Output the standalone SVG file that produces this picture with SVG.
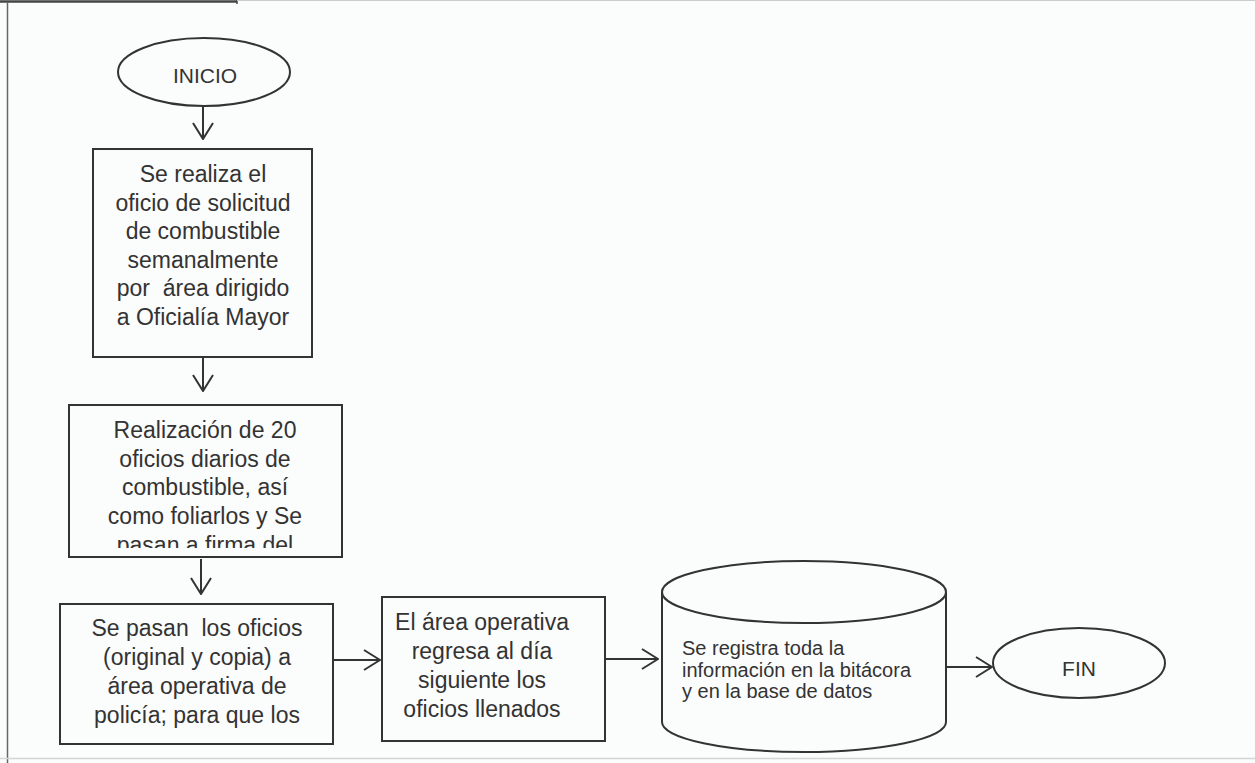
<svg xmlns="http://www.w3.org/2000/svg" width="1255" height="763" viewBox="0 0 1255 763">
<style>
.shape{fill:none;stroke:#333;stroke-width:2}
.txt{font-family:"Liberation Sans",Arial,sans-serif;font-size:23px;fill:#333;text-anchor:middle}
.term{font-family:"Liberation Sans",Arial,sans-serif;font-size:21px;fill:#333;text-anchor:middle}
.small{font-family:"Liberation Sans",Arial,sans-serif;font-size:20px;fill:#333}
.conn{fill:none;stroke:#333;stroke-width:2}
</style>
<defs>
<marker id="arr" viewBox="0 0 18 22" refX="17" refY="11" markerWidth="18" markerHeight="22" markerUnits="userSpaceOnUse" orient="auto">
<path d="M1,1 L17,11 L1,21" fill="none" stroke="#333" stroke-width="2"/>
</marker>
<clipPath id="clip2"><rect x="70" y="406" width="272" height="142"/></clipPath>
</defs>
<rect x="0" y="0" width="1255" height="763" fill="#fbfcfc"/>
<g id="frame">
<line x1="0" y1="1.5" x2="237" y2="1.5" stroke="#444" stroke-width="2.5"/>
<line x1="237" y1="0" x2="237" y2="4" stroke="#444" stroke-width="1.5"/>
<line x1="237" y1="0.5" x2="1255" y2="0.5" stroke="#ccc" stroke-width="1"/>
<line x1="7.5" y1="2" x2="7.5" y2="763" stroke="#666" stroke-width="1.5"/>
<line x1="0" y1="758.5" x2="1255" y2="758.5" stroke="#d4d6d6" stroke-width="1.5"/>
</g>
<g id="connectors">
<line class="conn" x1="203" y1="106" x2="203" y2="139" marker-end="url(#arr)"/>
<line class="conn" x1="203" y1="357" x2="203" y2="391" marker-end="url(#arr)"/>
<line class="conn" x1="201" y1="559" x2="201" y2="594" marker-end="url(#arr)"/>
<line class="conn" x1="333" y1="660" x2="380" y2="660" marker-end="url(#arr)"/>
<line class="conn" x1="605" y1="659" x2="658" y2="659" marker-end="url(#arr)"/>
<line class="conn" x1="946" y1="667" x2="992" y2="667" marker-end="url(#arr)"/>
</g>
<g id="inicio">
<ellipse class="shape" cx="204" cy="72" rx="86" ry="34"/>
<text class="term" x="205" y="83">INICIO</text>
</g>
<g id="paso1">
<rect class="shape" x="93" y="149" width="219" height="208"/>
<text class="txt" x="203" y="182">Se realiza el</text>
<text class="txt" x="203" y="210.6">oficio de solicitud</text>
<text class="txt" x="203" y="239.2">de combustible</text>
<text class="txt" x="203" y="267.8">semanalmente</text>
<text class="txt" x="203" y="296.4" xml:space="preserve">por  área dirigido</text>
<text class="txt" x="203" y="325">a Oficialía Mayor</text>
</g>
<g id="paso2">
<rect class="shape" x="69" y="405" width="273" height="152"/>
<g clip-path="url(#clip2)">
<text class="txt" x="205" y="438">Realización de 20</text>
<text class="txt" x="205" y="466.7">oficios diarios de</text>
<text class="txt" x="205" y="495.4">combustible, así</text>
<text class="txt" x="205" y="524.1">como foliarlos y Se</text>
<text class="txt" x="205" y="552.8">pasan a firma del</text>
</g>
</g>
<g id="paso3">
<rect class="shape" x="60" y="604" width="273" height="140"/>
<text class="txt" x="197" y="636" xml:space="preserve">Se pasan  los oficios</text>
<text class="txt" x="197" y="665">(original y copia) a</text>
<text class="txt" x="197" y="693.5">área operativa de</text>
<text class="txt" x="197" y="722.5">policía; para que los</text>
</g>
<g id="paso4">
<rect class="shape" x="382" y="597" width="223" height="144"/>
<text class="txt" x="482" y="630">El área operativa</text>
<text class="txt" x="482" y="659">regresa al día</text>
<text class="txt" x="482" y="688">siguiente los</text>
<text class="txt" x="482" y="717">oficios llenados</text>
</g>
<g id="registro">
<ellipse class="shape" cx="804" cy="592" rx="142" ry="31"/>
<path class="shape" d="M662,592 L662,722 A142,30 0 0 0 946,722 L946,592"/>
<text class="small" x="682" y="655">Se registra toda la</text>
<text class="small" x="682" y="676.5">información en la bitácora</text>
<text class="small" x="682" y="698">y en la base de datos</text>
</g>
<g id="fin">
<ellipse class="shape" cx="1079" cy="663" rx="86" ry="35"/>
<text class="term" x="1079" y="676">FIN</text>
</g>
</svg>
